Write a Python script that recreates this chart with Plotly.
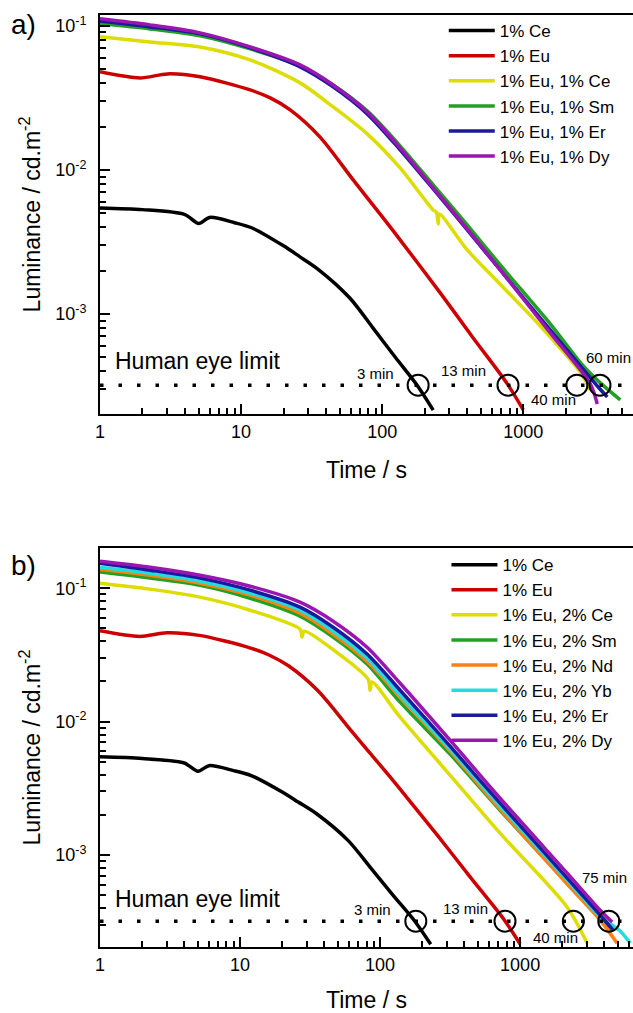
import numpy as np
import plotly.graph_objects as go

# ---------------- DATA (time / s, luminance / cd m^-2) ----------------
# shared curves (same samples in both panels)
ce1_t = [1, 2, 4, 5, 6, 9, 12, 20, 26, 35, 59, 86, 124, 177, 230]
ce1_L = [5.45e-3, 5.3e-3, 4.9e-3, 4.25e-3, 4.68e-3, 4.3e-3, 3.95e-3, 2.97e-3, 2.5e-3,
         2.05e-3, 1.29e-3, 8.0e-4, 5.0e-4, 3.2e-4, 2.15e-4]
eu1_t = [1, 1.92, 3.0, 5.12, 11.6, 16.1, 22.3, 36.3, 62.3, 101.6, 134, 258, 442, 771, 1000]
eu1_L = [0.048, 0.0435, 0.0464, 0.0443, 0.0359, 0.0316, 0.0261, 0.0169, 8.53e-3, 4.64e-3,
         3.27e-3, 1.40e-3, 6.81e-4, 3.27e-4, 2.16e-4]

# panel a) 1% co-dopants
a_ce_t = [1, 2.26, 5.12, 11.6, 26.2, 44.9, 78.3, 134, 230, 242, 250, 254, 401, 610, 1321, 2535, 2986]
a_ce_L = [0.0839, 0.0774, 0.0714, 0.058, 0.0402, 0.0274, 0.0178, 0.01033, 5.27e-3, 5.10e-3,
          4.22e-3, 4.94e-3, 2.78e-3, 1.81e-3, 8.25e-4, 3.95e-4, 2.97e-4]
a_sm_t = [1, 2.26, 5.12, 11.6, 26.2, 44.9, 78.3, 134, 230, 401, 687, 1554, 2666, 3516, 4875]
a_sm_L = [0.1033, 0.0953, 0.0853, 0.0692, 0.0528, 0.0389, 0.0257, 0.0147, 7.87e-3, 4.15e-3,
          2.19e-3, 8.53e-4, 4.35e-4, 3.32e-4, 2.53e-4]
a_er_t = [1, 2.26, 5.12, 11.6, 26.2, 44.9, 78.3, 134, 230, 401, 687, 1554, 3350, 3945]
a_er_L = [0.108, 0.0984, 0.088, 0.0704, 0.0519, 0.0377, 0.0245, 0.0138, 7.38e-3, 3.83e-3,
          2.02e-3, 7.74e-4, 3.16e-4, 2.65e-4]
a_dy_t = [1, 2.26, 5.12, 11.6, 26.2, 44.9, 78.3, 134, 230, 401, 687, 1554, 2986, 3350]
a_dy_L = [0.112, 0.1016, 0.0894, 0.0714, 0.0536, 0.0389, 0.0253, 0.01422, 7.5e-3, 3.89e-3,
          2.02e-3, 7.38e-4, 3.27e-4, 2.37e-4]

# panel b) 2% co-dopants
b_ce_t = [1, 2.28, 5.18, 11.8, 26.8, 27.7, 28.7, 46.2, 82.1, 84.8, 87.6, 139, 316, 719, 2168, 3010]
b_ce_L = [0.109, 0.0984, 0.0857, 0.0684, 0.0493, 0.043, 0.0476, 0.0346, 0.0208, 0.0172,
          0.0198, 0.0108, 3.97e-3, 1.46e-3, 4.07e-4, 2.19e-4]
b_grid_t = [1, 2.28, 5.18, 11.8, 26.8, 46.2, 80.7, 139, 316, 719, 2168, 3728]
b_sm_t = b_grid_t + [4395]
b_sm_L = [0.132, 0.119, 0.105, 0.0841, 0.0617, 0.0430, 0.0270, 0.0140, 5.71e-3, 2.17e-3,
          6.17e-4, 3.37e-4, 2.61e-4]
b_nd_t = b_grid_t + [4932]
b_nd_L = [0.1387, 0.125, 0.109, 0.0887, 0.065, 0.0452, 0.0284, 0.0153, 6.01e-3, 2.21e-3,
          6.07e-4, 3.26e-4, 2.19e-4]
b_yb_t = b_grid_t + [5176, 6105]
b_yb_L = [0.1435, 0.1294, 0.1128, 0.0918, 0.0684, 0.0476, 0.0299, 0.0158, 6.22e-3, 2.33e-3,
          6.5e-4, 3.49e-4, 2.70e-4, 2.19e-4]
b_er_t = b_grid_t + [4613]
b_er_L = [0.154, 0.1365, 0.119, 0.0966, 0.0721, 0.0510, 0.0321, 0.0172, 6.55e-3, 2.45e-3,
          6.73e-4, 3.56e-4, 2.74e-4]
b_dy_t = b_grid_t + [4540]
b_dy_L = [0.159, 0.1435, 0.125, 0.1035, 0.0786, 0.0566, 0.0361, 0.0194, 7.26e-3, 2.67e-3,
          7.33e-4, 3.87e-4, 3.15e-4]

eye_limit = 3.2e-4
a_circle_t = [180, 780, 2400, 3500]
b_circle_t = [180, 780, 2400, 4300]
a_lab_txt = ["3 min", "13 min", "40 min", "60 min"]
a_lab_t = [89, 375, 1633, 4009]
a_lab_L = [3.89e-4, 4.08e-4, 2.53e-4, 5.02e-4]
b_lab_txt = ["3 min", "13 min", "40 min", "75 min"]
b_lab_t = [87.7, 405, 1778, 3981]
b_lab_L = [3.94e-4, 4.01e-4, 2.43e-4, 6.84e-4]

x_ticks = [1, 10, 100, 1000]
y_ticks = [1e-3, 1e-2, 1e-1]
y_ticktext = ["10<sup>-3</sup>", "10<sup>-2</sup>", "10<sup>-1</sup>"]

a_xmax, b_xmax = 6000, 6400
a_yr = [2.02e-4, 0.119]
b_yr = [2.05e-4, 0.2]

colors = {"ce": "#000000", "eu": "#cc0000", "yel": "#dddd00", "sm": "#22a022",
          "nd": "#ff8010", "yb": "#22dddd", "er": "#1a1a9e", "dy": "#9a16b0"}

FONT = "Liberation Sans, Arial, sans-serif"
fig = go.Figure()


def add_line(t, L, name, color, xa, ya, leg):
    fig.add_trace(go.Scatter(x=t, y=L, mode="lines", name=name,
                             line=dict(color=color, width=3.5, shape="spline", smoothing=0.8),
                             xaxis=xa, yaxis=ya, legend=leg))


# panel a
add_line(ce1_t, ce1_L, "1% Ce", colors["ce"], "x", "y", "legend")
add_line(eu1_t, eu1_L, "1% Eu", colors["eu"], "x", "y", "legend")
add_line(a_ce_t, a_ce_L, "1% Eu, 1% Ce", colors["yel"], "x", "y", "legend")
add_line(a_sm_t, a_sm_L, "1% Eu, 1% Sm", colors["sm"], "x", "y", "legend")
add_line(a_er_t, a_er_L, "1% Eu, 1% Er", colors["er"], "x", "y", "legend")
add_line(a_dy_t, a_dy_L, "1% Eu, 1% Dy", colors["dy"], "x", "y", "legend")

# panel b
add_line(ce1_t, ce1_L, "1% Ce", colors["ce"], "x2", "y2", "legend2")
add_line(eu1_t, eu1_L, "1% Eu", colors["eu"], "x2", "y2", "legend2")
add_line(b_ce_t, b_ce_L, "1% Eu, 2% Ce", colors["yel"], "x2", "y2", "legend2")
add_line(b_sm_t, b_sm_L, "1% Eu, 2% Sm", colors["sm"], "x2", "y2", "legend2")
add_line(b_nd_t, b_nd_L, "1% Eu, 2% Nd", colors["nd"], "x2", "y2", "legend2")
add_line(b_yb_t, b_yb_L, "1% Eu, 2% Yb", colors["yb"], "x2", "y2", "legend2")
add_line(b_er_t, b_er_L, "1% Eu, 2% Er", colors["er"], "x2", "y2", "legend2")
add_line(b_dy_t, b_dy_L, "1% Eu, 2% Dy", colors["dy"], "x2", "y2", "legend2")

# human eye limit lines and circles
for xa, ya, xmax, ct in [("x", "y", a_xmax, a_circle_t), ("x2", "y2", b_xmax, b_circle_t)]:
    fig.add_trace(go.Scatter(x=[1, xmax], y=[eye_limit, eye_limit], mode="lines",
                             line=dict(color="black", width=3.5, dash="3.5px,15px"),
                             xaxis=xa, yaxis=ya, showlegend=False, hoverinfo="skip"))
    fig.add_trace(go.Scatter(x=ct, y=[eye_limit] * len(ct), mode="markers",
                             marker=dict(symbol="circle-open", size=21, color="black",
                                         line=dict(width=2, color="black")),
                             xaxis=xa, yaxis=ya, showlegend=False, hoverinfo="skip"))

annotations = []
for xr, yr, txt, tt, LL in [("x", "y", a_lab_txt, a_lab_t, a_lab_L),
                            ("x2", "y2", b_lab_txt, b_lab_t, b_lab_L)]:
    for s, t, L in zip(txt, tt, LL):
        annotations.append(dict(x=np.log10(t), y=np.log10(L), xref=xr, yref=yr, text=s,
                                showarrow=False, font=dict(size=15, color="black", family=FONT)))
    annotations.append(dict(x=np.log10(1.23), y=np.log10(4.7e-4), xref=xr, yref=yr,
                            text="Human eye limit", xanchor="left", showarrow=False,
                            font=dict(size=23, color="black", family=FONT)))

annotations.append(dict(x=-0.1426, y=0.9893, xref="paper", yref="paper", text="a)",
                        xanchor="center", yanchor="middle",
                        showarrow=False, font=dict(size=28, color="black", family=FONT)))
annotations.append(dict(x=-0.1426, y=0.4088, xref="paper", yref="paper", text="b)",
                        xanchor="center", yanchor="middle",
                        showarrow=False, font=dict(size=28, color="black", family=FONT)))

xminor = [m * 10 ** k for k in range(0, 4) for m in range(2, 10)]
yminor = [m * 10.0 ** k for k in range(-4, 0) for m in range(2, 10)]


def xaxis_cfg(xmax, anchor):
    return dict(type="log", range=[0, np.log10(xmax)], anchor=anchor, domain=[0, 1],
                tickvals=x_ticks, ticktext=[str(v) for v in x_ticks],
                ticks="inside", ticklen=10, tickwidth=2, tickcolor="black",
                minor=dict(tickmode="array", tickvals=xminor, ticks="inside", ticklen=6,
                           tickwidth=1.5, tickcolor="black", showgrid=False),
                showline=True, linewidth=2, linecolor="black", mirror=True,
                showgrid=False, zeroline=False,
                tickfont=dict(size=18, color="black", family=FONT),
                title=dict(text="Time / s", font=dict(size=23, color="black", family=FONT),
                           standoff=21))


def yaxis_cfg(yr, anchor, domain):
    return dict(type="log", range=[np.log10(yr[0]), np.log10(yr[1])], anchor=anchor,
                domain=domain, tickvals=y_ticks, ticktext=y_ticktext,
                ticks="inside", ticklen=10, tickwidth=2, tickcolor="black",
                ticklabelstandoff=8,
                minor=dict(tickmode="array", tickvals=yminor, ticks="inside", ticklen=6,
                           tickwidth=1.5, tickcolor="black", showgrid=False),
                showline=True, linewidth=2, linecolor="black",
                showgrid=False, zeroline=False,
                tickfont=dict(size=18, color="black", family=FONT),
                title=dict(text="Luminance / cd.m<sup>-2</sup>",
                           font=dict(size=23, color="black", family=FONT), standoff=8))


leg_common = dict(xanchor="left", yanchor="top", bgcolor="rgba(0,0,0,0)",
                  borderwidth=0, font=dict(size=17, color="black", family=FONT),
                  itemwidth=46, tracegroupgap=0)

fig.update_layout(
    width=633, height=1013,
    margin=dict(l=100, r=0, t=15, b=66),
    paper_bgcolor="white", plot_bgcolor="white",
    font=dict(family=FONT, color="black"),
    xaxis=xaxis_cfg(a_xmax, "y"),
    yaxis=yaxis_cfg(a_yr, "x", [0.5719, 1]),
    xaxis2=xaxis_cfg(b_xmax, "y2"),
    yaxis2=yaxis_cfg(b_yr, "x2", [0, 0.4281]),
    legend=dict(x=0.645, y=1.0021, **leg_common),
    legend2=dict(x=0.65, y=0.4291, **leg_common),
    annotations=annotations,
    showlegend=True,
)

fig.write_html("out.html")
